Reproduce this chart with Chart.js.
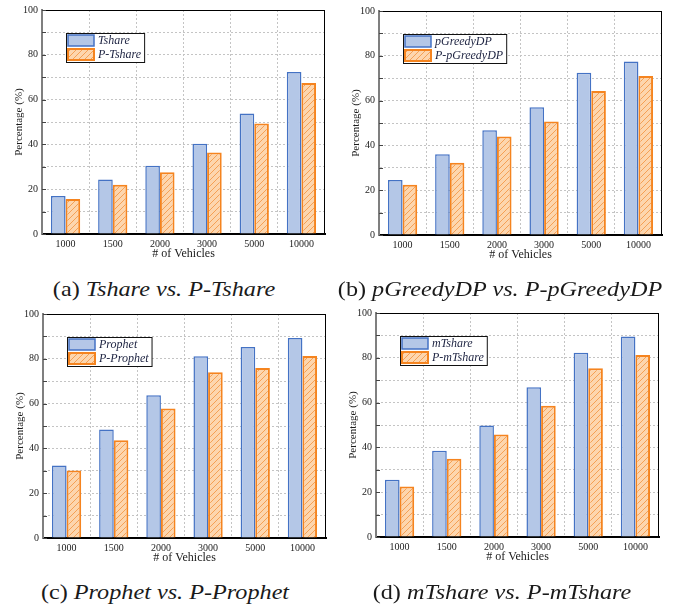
<!DOCTYPE html>
<html>
<head>
<meta charset="utf-8">
<script src="https://cdn.jsdelivr.net/npm/chart.js@4.4.1/dist/chart.umd.min.js"></script>
<style>
  body { margin: 0; background: #fff; }
  #page { position: relative; width: 686px; height: 608px; overflow: hidden; background: #fff; }
  canvas { position: absolute; }
  .cap { position: absolute; font-family: "Liberation Serif", "Times New Roman", serif; font-size: 22px;
         color: #1a1a1a; white-space: nowrap; transform: translate(-50%, -50%) scaleX(1.1); line-height: 1; }
  .cap i { font-style: italic; }
</style>
</head>
<body>
<div id="page">
  <canvas id="c-a" width="340" height="270" style="left:0px;top:0px;"></canvas>
  <canvas id="c-b" width="340" height="270" style="left:337px;top:1px;"></canvas>
  <canvas id="c-c" width="340" height="270" style="left:1px;top:304px;"></canvas>
  <canvas id="c-d" width="340" height="270" style="left:334px;top:303px;"></canvas>
  <div class="cap" style="left:164px;top:289px;">(a) <i>Tshare vs. P-Tshare</i></div>
  <div class="cap" style="left:500px;top:289px;">(b) <i>pGreedyDP vs. P-pGreedyDP</i></div>
  <div class="cap" style="left:165px;top:592px;">(c) <i>Prophet vs. P-Prophet</i></div>
  <div class="cap" style="left:502px;top:592px;">(d) <i>mTshare vs. P-mTshare</i></div>
</div>
<script>
// ── DATA ──
const vehicles   = ['1000', '1500', '2000', '3000', '5000', '10000'];
const tshare     = [17.0, 24.3, 30.5, 40.3, 53.8, 72.3];
const pTshare    = [15.6, 22.0, 27.6, 36.4, 49.3, 67.4];
const pGreedyDP  = [24.5, 36.0, 46.8, 57.0, 72.4, 77.4];
const pPGreedyDP = [22.4, 32.3, 44.0, 50.7, 64.3, 71.0];
const prophet    = [32.4, 48.4, 63.7, 81.1, 85.3, 89.3];
const pProphet   = [30.1, 43.6, 57.8, 74.0, 75.9, 81.3];
const mTshare    = [25.6, 38.5, 49.8, 66.8, 82.2, 89.5];
const pMTshare   = [22.5, 34.9, 45.8, 58.6, 75.3, 81.3];
const yLabelTicks = [0, 20, 40, 60, 80, 100];

const FONT = '"Liberation Serif", "Times New Roman", serif';
const BLUE_FILL = '#b4c7e7', BLUE_LINE = '#4472c4';
const ORANGE_LINE = '#f5841f';

// ── HATCH PATTERN for the P- series ──
function makeHatch() {
  const c = document.createElement('canvas');
  c.width = 6; c.height = 6;
  const g = c.getContext('2d');
  g.fillStyle = '#fdd6ae';
  g.fillRect(0, 0, 6, 6);
  g.strokeStyle = '#f5a055';
  g.lineWidth = 1;
  g.beginPath();
  g.moveTo(0, 6); g.lineTo(6, 0);
  g.moveTo(-1, 1); g.lineTo(1, -1);
  g.moveTo(5, 7); g.lineTo(7, 5);
  g.stroke();
  return g.createPattern(c, 'repeat');
}
const HATCH = makeHatch();

// ── PLUGINS: frame, inward ticks, boxed legend ──
const framePlugin = {
  id: 'frame',
  afterDatasetsDraw(chart) {
    const { ctx, chartArea: a, scales: { y } } = chart;
    ctx.save();
    ctx.strokeStyle = '#000';
    ctx.lineWidth = 1;
    ctx.beginPath();
    ctx.moveTo(a.left, a.top + 0.5); ctx.lineTo(a.right, a.top + 0.5);
    ctx.moveTo(a.right - 0.5, a.top); ctx.lineTo(a.right - 0.5, a.bottom);
    ctx.stroke();
    // short inward ticks on the y axis
    ctx.strokeStyle = '#444';
    ctx.beginPath();
    y.ticks.forEach(t => {
      const py = Math.round(y.getPixelForValue(t.value)) + 0.5;
      ctx.moveTo(a.left, py); ctx.lineTo(a.left + 4, py);
    });
    ctx.stroke();
    ctx.restore();
  }
};

const boxLegendPlugin = {
  id: 'boxLegend',
  afterDraw(chart) {
    const { ctx, chartArea: a } = chart;
    const ds = chart.data.datasets;
    ctx.save();
    ctx.font = 'italic 12px ' + FONT;
    const maxW = Math.max(...ds.map(d => ctx.measureText(d.label).width));
    const x0 = a.left + 24, y0 = a.top + 23;
    const w = 2 + 26 + 4 + maxW + 3, h = 29;
    ctx.fillStyle = '#fff';
    ctx.fillRect(x0, y0, w, h);
    ctx.strokeStyle = '#111';
    ctx.lineWidth = 1;
    ctx.strokeRect(x0 + 0.5, y0 + 0.5, w, h);
    ds.forEach((d, i) => {
      const sy = y0 + 2 + i * 14;
      ctx.fillStyle = d.backgroundColor;
      ctx.fillRect(x0 + 2, sy, 26, 11);
      ctx.strokeStyle = d.borderColor;
      ctx.lineWidth = d.borderWidth;
      ctx.strokeRect(x0 + 2, sy, 26, 11);
      ctx.fillStyle = '#1c2240';
      ctx.textBaseline = 'middle';
      ctx.fillText(d.label, x0 + 32, sy + 6);
    });
    ctx.restore();
  }
};

// ── ONE PANEL ──
function drawPanel(id, nameA, dataA, nameB, dataB) {
  const ctx = document.getElementById(id).getContext('2d');
  return new Chart(ctx, {
    type: 'bar',
    data: {
      labels: vehicles,
      datasets: [
        { label: nameA, data: dataA, backgroundColor: BLUE_FILL, borderColor: BLUE_LINE, borderWidth: 1.5,
          categoryPercentage: 0.62, barPercentage: 1.0 },
        { label: nameB, data: dataB, backgroundColor: HATCH, borderColor: ORANGE_LINE, borderWidth: 2,
          categoryPercentage: 0.62, barPercentage: 1.0 },
      ]
    },
    options: {
      responsive: false, animation: false, devicePixelRatio: 1,
      layout: { padding: { top: 8, right: 15, left: 0, bottom: 0 } },
      plugins: { legend: { display: false }, tooltip: { enabled: false } },
      scales: {
        x: {
          grid: { offset: true, color: '#c4c4c4', drawTicks: false, lineWidth: 1 },
          border: { color: '#000', width: 2, dash: [2, 2] },
          ticks: { font: { family: FONT, size: 10 }, color: '#222', padding: 4 },
          title: { display: true, text: '# of Vehicles', color: '#1a1a1a',
                   font: { family: FONT, size: 12 }, padding: { top: 0, bottom: 9 } },
          afterFit: s => { s.height = 36; }
        },
        y: {
          min: 0, max: 100,
          grid: { color: '#c4c4c4', drawTicks: false, lineWidth: 1 },
          border: { color: '#7f7f7f', width: 2, dash: [2, 2] },
          ticks: { stepSize: 10, font: { family: FONT, size: 10 }, color: '#222', padding: 4,
                   callback: v => yLabelTicks.includes(v) ? v : '' },
          title: { display: true, text: 'Percentage (%)', color: '#1a1a1a',
                   font: { family: FONT, size: 11 }, padding: { top: 13, bottom: 0 } },
          afterFit: s => { s.width = 42; }
        }
      }
    },
    plugins: [framePlugin, boxLegendPlugin]
  });
}

drawPanel('c-a', 'Tshare', tshare, 'P-Tshare', pTshare);
drawPanel('c-b', 'pGreedyDP', pGreedyDP, 'P-pGreedyDP', pPGreedyDP);
drawPanel('c-c', 'Prophet', prophet, 'P-Prophet', pProphet);
drawPanel('c-d', 'mTshare', mTshare, 'P-mTshare', pMTshare);
</script>
</body>
</html>
